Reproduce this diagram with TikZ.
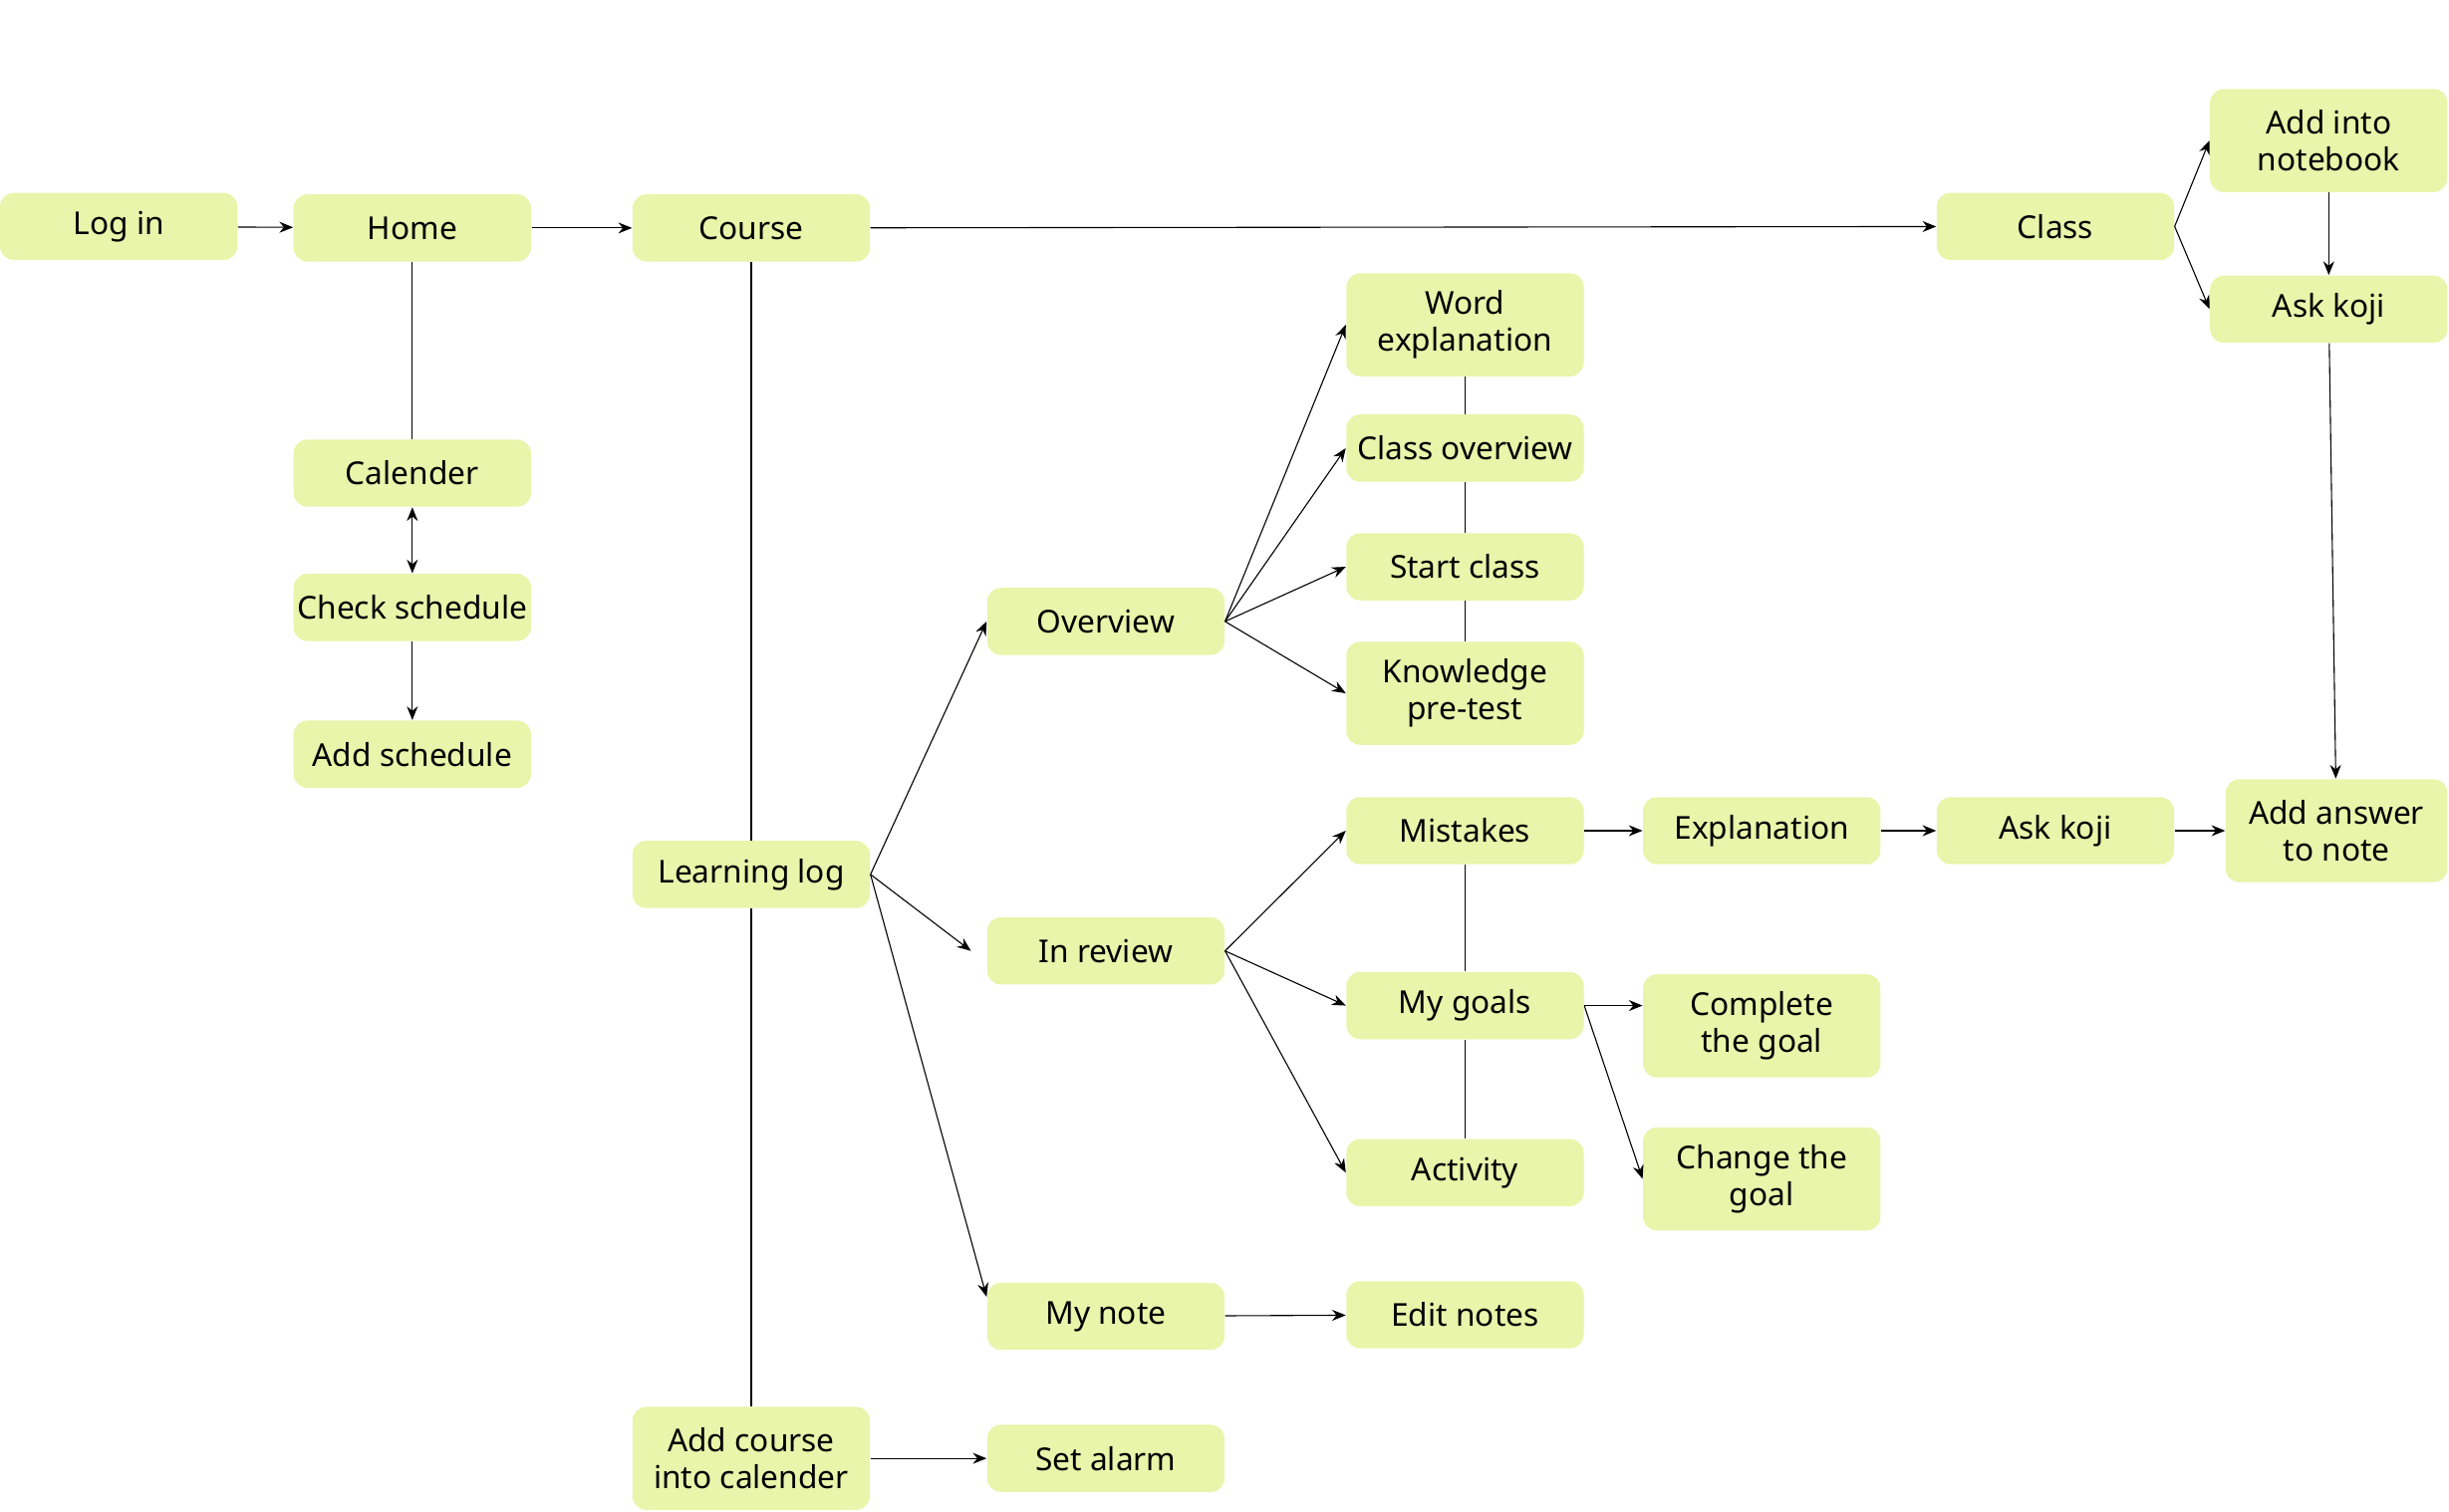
\documentclass[tikz,border=0pt]{standalone}
\usepackage{fontspec}
\setmainfont{Noto Sans}
\usetikzlibrary{arrows.meta}
\definecolor{boxfill}{HTML}{E8F5AA}
\tikzset{
  box/.style={fill=boxfill, rounded corners=5pt, minimum width=3.04cm, minimum height=0.86cm,
    align=center, inner sep=1pt, font=\fontsize{11.5}{13.5}\selectfont},
  tall/.style={box, minimum height=1.32cm},
  link/.style={-{Stealth[length=5pt,width=4pt]}, thin},
  plain/.style={thin}
}
\begin{document}
\begin{tikzpicture}[x=0.02cm,y=-0.02cm]
\useasboundingbox (0,0) rectangle (1568,968);
% main row
\node [box] (login) at (76,145) {Log in};
\node [box] (home) at (264,146) {Home};
\node [box] (course) at (481,146) {Course};
\node [box] (class) at (1316,145) {Class};
\node [tall] (notebook) at (1491,90) {Add into\\notebook};
\node [box] (askA) at (1491,198) {Ask koji};
% schedule column
\node [box] (cal) at (264,303) {Calender};
\node [box] (check) at (264,389) {Check schedule};
\node [box] (addsch) at (264,483) {Add schedule};
% course column
\node [box] (log) at (481,560) {Learning log};
\node [tall] (addcourse) at (481,934) {Add course\\into calender};
\node [box] (alarm) at (708,934) {Set alarm};
\node [box] (overview) at (708,398) {Overview};
\node [box] (review) at (708,609) {In review};
\node [box] (mynote) at (708,843) {My note};
% overview items
\node [tall] (word) at (938,208) {Word\\explanation};
\node [box] (clov) at (938,287) {Class overview};
\node [box] (start) at (938,363) {Start class};
\node [tall] (pretest) at (938,444) {Knowledge\\pre-test};
% review items
\node [box] (mistakes) at (938,532) {Mistakes};
\node [box] (goals) at (938,644) {My goals};
\node [box] (activity) at (938,751) {Activity};
\node [box] (edit) at (938,842) {Edit notes};
\node [box] (expl) at (1128,532) {Explanation};
\node [box] (askB) at (1316,532) {Ask koji};
\node [tall, minimum width=2.84cm] (answer) at (1496,532) {Add answer\\to note};
\node [tall] (complete) at (1128,657) {Complete\\the goal};
\node [tall] (change) at (1128,755) {Change the\\goal};

\draw [link] (login) -- (home);
\draw [link] (home) -- (course);
\draw [link] (course) -- (class);
\draw [link] (class.east) -- (notebook.west);
\draw [link] (class.east) -- (askA.west);
\draw [link] (notebook) -- (askA);
\draw [link] (askA) -- (answer);
\draw [plain] (home) -- (cal);
\draw [{Stealth[length=5pt,width=4pt]}-{Stealth[length=5pt,width=4pt]}, thin] (cal) -- (check);
\draw [link] (check) -- (addsch);
\draw [plain] (course) -- (log);
\draw [plain] (log) -- (addcourse);
\draw [link] (addcourse) -- (alarm);
\draw [link] (log.east) -- (overview.west);
\draw [link] (log.east) -- ([xshift=-0.2cm]review.west);
\draw [link] (log.east) -- ([yshift=0.25cm]mynote.west);
\draw [link] (mynote) -- (edit);
\foreach \t in {word,clov,start,pretest}
  \draw [link] (overview.east) -- (\t.west);
\draw [plain] (word) -- (clov) (clov) -- (start) (start) -- (pretest);
\foreach \t in {mistakes,goals,activity}
  \draw [link] (review.east) -- (\t.west);
\draw [plain] (mistakes) -- (goals) (goals) -- (activity);
\draw [link] (mistakes) -- (expl);
\draw [link] (expl) -- (askB);
\draw [link] (askB) -- (answer);
\draw [link] (goals.east) -- (complete.west |- goals.east);
\draw [link] (goals.east) -- (change.west);
\end{tikzpicture}
\end{document}
